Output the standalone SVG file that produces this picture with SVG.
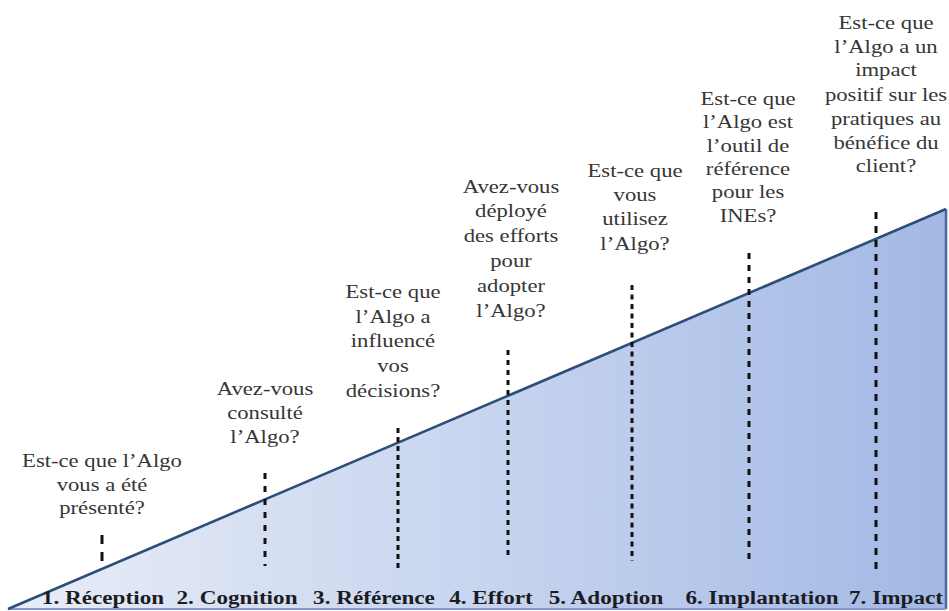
<svg xmlns="http://www.w3.org/2000/svg" width="949" height="611" viewBox="0 0 949 611">
  <defs>
    <linearGradient id="rampFill" x1="0" y1="0" x2="1" y2="0">
      <stop offset="0" stop-color="#e8edf7"/>
      <stop offset="0.5" stop-color="#c8d5ef"/>
      <stop offset="1" stop-color="#a2b8e4"/>
    </linearGradient>
  </defs>
  <style>
    .q { font-family: "Liberation Serif", "Times New Roman", serif; font-size: 18px; fill: #363636; text-anchor: middle; }
    .stage { font-family: "Liberation Serif", "Times New Roman", serif; font-size: 19px; font-weight: bold; fill: #1c1c24; text-anchor: middle; }
    .tick { stroke: #111111; stroke-width: 3; fill: none; }
  </style>

  <!-- rising ramp -->
  <g id="ramp">
    <polygon points="8,609 946,209 946,609" fill="url(#rampFill)"/>
    <line x1="946" y1="209" x2="946" y2="609" stroke="#4a6a9c" stroke-width="2.5"/>
    <line x1="8" y1="609" x2="946" y2="609" stroke="#7e9bcc" stroke-width="2"/>
    <line x1="8" y1="609" x2="946" y2="209" stroke="#2e4d78" stroke-width="2.6"/>
  </g>

  <!-- dashed markers, one per stage -->
  <g id="connectors">
    <line class="tick" x1="102" y1="535" x2="102" y2="563" stroke-dasharray="9 8"/>
    <line class="tick" x1="265" y1="473" x2="265" y2="566" stroke-dasharray="6 7"/>
    <line class="tick" x1="398" y1="428" x2="398" y2="572" stroke-dasharray="5 4"/>
    <line class="tick" x1="508" y1="350" x2="508" y2="558" stroke-dasharray="5 5"/>
    <line class="tick" x1="632" y1="285" x2="632" y2="561" stroke-dasharray="5 4.5"/>
    <line class="tick" x1="749" y1="253" x2="749" y2="559" stroke-dasharray="6 6"/>
    <line class="tick" x1="876" y1="212" x2="876" y2="572" stroke-dasharray="7 7"/>
  </g>

  <!-- stage 1 -->
  <g id="reception">
    <g transform="translate(102,0) scale(1.26,1)">
      <text class="q" x="0" y="467">Est-ce que l’Algo</text>
      <text class="q" x="0" y="491">vous a été</text>
      <text class="q" x="0" y="514">présenté?</text>
    </g>
    <g transform="translate(103,0) scale(1.22,1)">
      <text class="stage" x="0" y="604">1. Réception</text>
    </g>
  </g>

  <!-- stage 2 -->
  <g id="cognition">
    <g transform="translate(265,0) scale(1.26,1)">
      <text class="q" x="0" y="395">Avez-vous</text>
      <text class="q" x="0" y="419">consulté</text>
      <text class="q" x="0" y="443">l’Algo?</text>
    </g>
    <g transform="translate(237,0) scale(1.22,1)">
      <text class="stage" x="0" y="604">2. Cognition</text>
    </g>
  </g>

  <!-- stage 3 -->
  <g id="reference">
    <g transform="translate(393,0) scale(1.26,1)">
      <text class="q" x="0" y="298">Est-ce que</text>
      <text class="q" x="0" y="323">l’Algo a</text>
      <text class="q" x="0" y="347">influencé</text>
      <text class="q" x="0" y="372">vos</text>
      <text class="q" x="0" y="397">décisions?</text>
    </g>
    <g transform="translate(374,0) scale(1.22,1)">
      <text class="stage" x="0" y="604">3. Référence</text>
    </g>
  </g>

  <!-- stage 4 -->
  <g id="effort">
    <g transform="translate(511,0) scale(1.26,1)">
      <text class="q" x="0" y="193">Avez-vous</text>
      <text class="q" x="0" y="217">déployé</text>
      <text class="q" x="0" y="242">des efforts</text>
      <text class="q" x="0" y="267">pour</text>
      <text class="q" x="0" y="292">adopter</text>
      <text class="q" x="0" y="317">l’Algo?</text>
    </g>
    <g transform="translate(491,0) scale(1.22,1)">
      <text class="stage" x="0" y="604">4. Effort</text>
    </g>
  </g>

  <!-- stage 5 -->
  <g id="adoption">
    <g transform="translate(635,0) scale(1.26,1)">
      <text class="q" x="0" y="177">Est-ce que</text>
      <text class="q" x="0" y="201">vous</text>
      <text class="q" x="0" y="225">utilisez</text>
      <text class="q" x="0" y="250">l’Algo?</text>
    </g>
    <g transform="translate(606,0) scale(1.22,1)">
      <text class="stage" x="0" y="604">5. Adoption</text>
    </g>
  </g>

  <!-- stage 6 -->
  <g id="implantation">
    <g transform="translate(748,0) scale(1.26,1)">
      <text class="q" x="0" y="105">Est-ce que</text>
      <text class="q" x="0" y="128">l’Algo est</text>
      <text class="q" x="0" y="152">l’outil de</text>
      <text class="q" x="0" y="175">référence</text>
      <text class="q" x="0" y="198">pour les</text>
      <text class="q" x="0" y="222">INEs?</text>
    </g>
    <g transform="translate(762,0) scale(1.22,1)">
      <text class="stage" x="0" y="604">6. Implantation</text>
    </g>
  </g>

  <!-- stage 7 -->
  <g id="impact">
    <g transform="translate(886,0) scale(1.26,1)">
      <text class="q" x="0" y="29">Est-ce que</text>
      <text class="q" x="0" y="53">l’Algo a un</text>
      <text class="q" x="0" y="76">impact</text>
      <text class="q" x="0" y="101">positif sur les</text>
      <text class="q" x="0" y="125">pratiques au</text>
      <text class="q" x="0" y="149">bénéfice du</text>
      <text class="q" x="0" y="172">client?</text>
    </g>
    <g transform="translate(896,0) scale(1.22,1)">
      <text class="stage" x="0" y="604">7. Impact</text>
    </g>
  </g>
</svg>
